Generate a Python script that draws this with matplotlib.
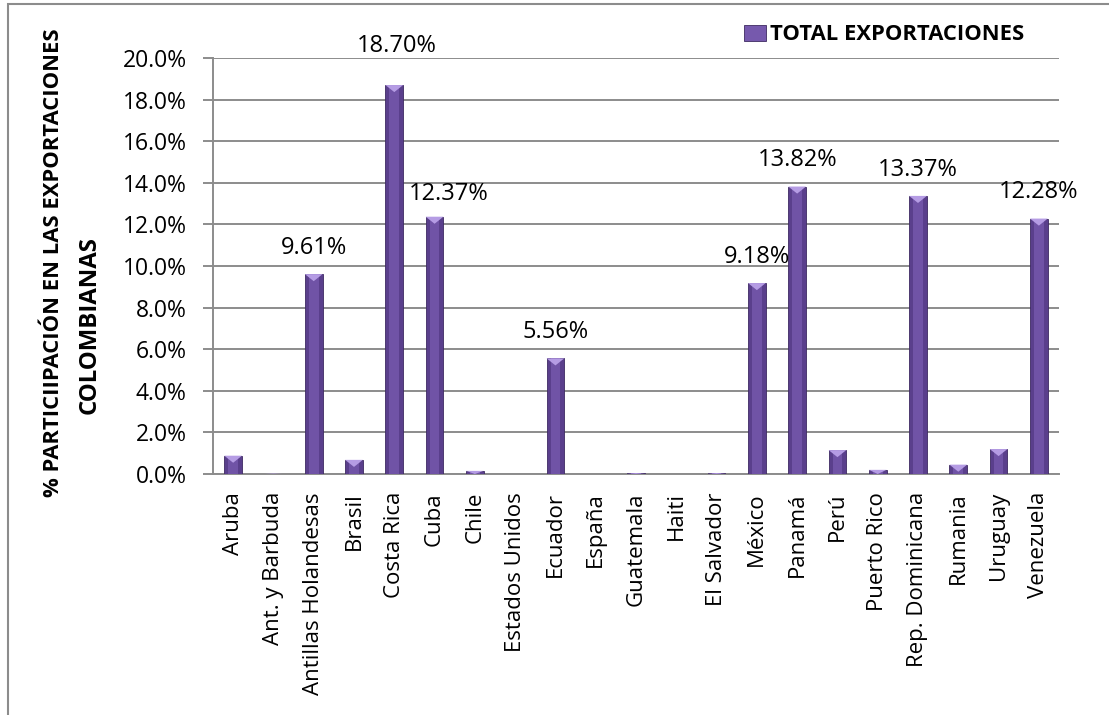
import matplotlib
matplotlib.use("Agg")
import matplotlib.pyplot as plt
from matplotlib.patches import Patch, Polygon, Rectangle
from matplotlib.ticker import FuncFormatter, MultipleLocator

# ---------------------------------------------------------------------------
# Data: share of Colombian exports by destination (%)
# ---------------------------------------------------------------------------

countries = [
    "Aruba", "Ant. y Barbuda", "Antillas Holandesas", "Brasil", "Costa Rica",
    "Cuba", "Chile", "Estados Unidos", "Ecuador", "España", "Guatemala",
    "Haiti", "El Salvador", "México", "Panamá", "Perú", "Puerto Rico",
    "Rep. Dominicana", "Rumania", "Uruguay", "Venezuela",
]
share_pct = [
    0.88, 0.02, 9.61, 0.68, 18.70,
    12.37, 0.15, 0.0, 5.56, 0.0, 0.04,
    0.0, 0.04, 9.18, 13.82, 1.15, 0.20,
    13.37, 0.45, 1.20, 12.28,
]

LABEL_MIN = 5.0           # only bars above this get a value label
SERIES_NAME = "TOTAL EXPORTACIONES"
YLABEL_1 = "% PARTICIIPACIÓN EN LAS EXPORTACIONES"
YLABEL_2 = "COLOMBIANAS"

# per-bar label nudges in points (dx, dy) on top of the default
LABEL_NUDGE = {"Costa Rica": (2, 9), "Cuba": (10, -3)}

BAR_DARK  = "#5a3f8c"
BAR_MID   = "#7659ad"
BAR_CAP   = "#b59ce4"
BAR_EDGE  = "#3e2a62"
GRID_GRAY = "#8c8c8c"

plt.rcParams["font.family"] = ["Open Sans", "DejaVu Sans"]

# ---------------------------------------------------------------------------
# Figure
# ---------------------------------------------------------------------------

fig = plt.figure(figsize=(11.09, 7.15), dpi=100)
fig.patch.set_facecolor("white")

# outer chart frame (runs off the right and bottom edge)
fig.add_artist(Rectangle((8 / 1109, -0.05), 1.2, 1 - 4 / 715 + 0.05,
                         transform=fig.transFigure, fill=False,
                         edgecolor=GRID_GRAY, linewidth=1.5))

ax = fig.add_axes([213 / 1109, 1 - 474 / 715, (1059 - 213) / 1109, (474 - 58) / 715])

x = list(range(len(countries)))
width = 0.44

ax.bar(x, share_pct, width, color=BAR_DARK, edgecolor=BAR_EDGE, linewidth=0.6, zorder=3)
ax.bar(x, share_pct, width * 0.55, color=BAR_MID, linewidth=0, alpha=0.8, zorder=3)

# bevelled top of each column
cap_h = 0.34
for xi, v in zip(x, share_pct):
    if v <= 0:
        continue
    h = min(cap_h, v)
    tri = Polygon([(xi - width / 2, v), (xi + width / 2, v), (xi, v - h)],
                  closed=True, facecolor=BAR_CAP, edgecolor="none", zorder=4)
    ax.add_patch(tri)

# value labels
for name, xi, v in zip(countries, x, share_pct):
    if v < LABEL_MIN:
        continue
    dx, dy = LABEL_NUDGE.get(name, (0, 0))
    ax.annotate(f"{v:.2f}%", xy=(xi, v), xytext=(dx, 19 + dy),
                textcoords="offset points", ha="center", va="center",
                fontsize=17, color="black", zorder=5, annotation_clip=False)

ax.set_xlim(-0.5, len(countries) - 0.5)
ax.set_ylim(0, 20)
ax.yaxis.set_major_locator(MultipleLocator(2))
ax.yaxis.set_major_formatter(FuncFormatter(lambda v, _: f"{v:.1f}%"))
ax.set_xticks(x)
ax.set_xticklabels(countries, rotation=90, fontsize=16)

ax.grid(axis="y", color=GRID_GRAY, linewidth=1.4, zorder=0)
ax.set_axisbelow(True)
for side in ["top", "right"]:
    ax.spines[side].set_visible(False)
for side in ["left", "bottom"]:
    ax.spines[side].set_color(GRID_GRAY)
    ax.spines[side].set_linewidth(1.4)

ax.tick_params(axis="y", length=7, width=1.4, color=GRID_GRAY, pad=12, labelsize=16.5)
ax.tick_params(axis="x", length=0, pad=13)

# axis title, two lines
fig.text(54 / 1109, 1 - 263 / 715, YLABEL_1, rotation=90, ha="center", va="center",
         fontsize=15.8, fontweight="bold")
fig.text(90 / 1109, 1 - 325 / 715, YLABEL_2, rotation=90, ha="center", va="center",
         fontsize=17.3, fontweight="bold")

# legend
handle = Patch(facecolor=BAR_MID, edgecolor=BAR_EDGE, linewidth=0.6)
fig.legend([handle], [SERIES_NAME], loc="center left",
           bbox_to_anchor=(735 / 1109, 1 - 35 / 715), frameon=False,
           handlelength=1.0, handleheight=0.75, handletextpad=0.2,
           borderaxespad=0, prop={"weight": "bold", "size": 15.8})

fig.savefig("out.png", dpi=100, facecolor="white")
